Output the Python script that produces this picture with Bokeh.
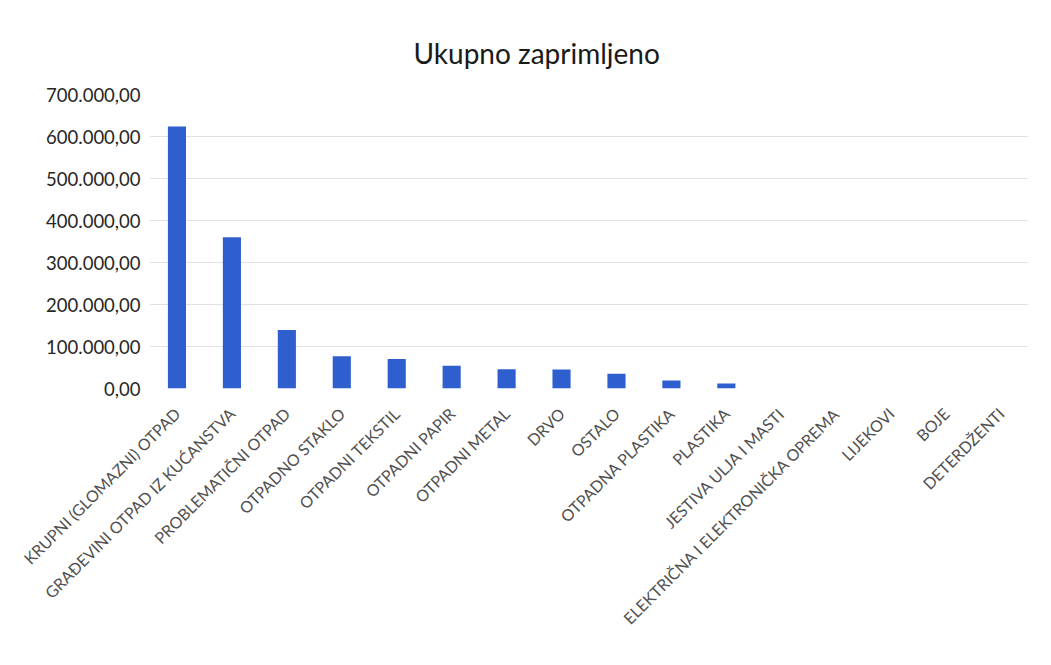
from math import pi
from bokeh.plotting import figure
from bokeh.models import ColumnDataSource, FixedTicker
from bokeh.embed import file_html
from bokeh.resources import INLINE

categories = [
    "KRUPNI (GLOMAZNI) OTPAD",
    "GRAĐEVINI OTPAD IZ KUĆANSTVA",
    "PROBLEMATIČNI OTPAD",
    "OTPADNO STAKLO",
    "OTPADNI TEKSTIL",
    "OTPADNI PAPIR",
    "OTPADNI METAL",
    "DRVO",
    "OSTALO",
    "OTPADNA PLASTIKA",
    "PLASTIKA",
    "JESTIVA ULJA I MASTI",
    "ELEKTRIČNA I ELEKTRONIČKA OPREMA",
    "LIJEKOVI",
    "BOJE",
    "DETERDŽENTI",
]
values = [624000, 360000, 139000, 77000, 70000, 54000, 46000, 45000, 35000, 19000, 12000, 250, 180, 60, 40, 20]

y_ticks = [0, 100000, 200000, 300000, 400000, 500000, 600000, 700000]
y_tick_labels = ["0,00", "100.000,00", "200.000,00", "300.000,00", "400.000,00",
                 "500.000,00", "600.000,00", "700.000,00"]

src = ColumnDataSource(dict(cat=categories, val=values))

p = figure(x_range=categories, y_range=(0, 700000), width=1035, height=649,
           output_backend="svg", toolbar_location=None,
           min_border_left=149, min_border_right=7, min_border_top=94, min_border_bottom=261)

p.vbar(x="cat", top="val", width=0.33, source=src, fill_color="#2F5FCF", line_color=None)

p.title.text = "Ukupno zaprimljeno"
p.title.align = "left"
p.title.offset = 264
p.title.standoff = 50
p.title.text_font = "Lato"
p.title.text_font_size = "28px"
p.title.text_font_style = "normal"
p.title.text_color = "#1a1a1a"

p.yaxis.ticker = FixedTicker(ticks=y_ticks)
p.yaxis.major_label_overrides = {t: l for t, l in zip(y_ticks, y_tick_labels)}
p.yaxis.axis_line_color = None
p.yaxis.major_tick_line_color = None
p.yaxis.major_tick_out = 0
p.yaxis.major_tick_in = 0
p.yaxis.minor_tick_line_color = None
p.yaxis.minor_tick_out = 0
p.yaxis.major_label_text_font = "Lato"
p.yaxis.major_label_text_font_size = "18.5px"
p.yaxis.major_label_text_color = "#262626"
p.yaxis.major_label_standoff = 9

p.xaxis.axis_line_color = None
p.xaxis.major_tick_line_color = None
p.xaxis.major_tick_out = 0
p.xaxis.major_tick_in = 0
p.xaxis.major_label_orientation = pi / 4
p.xaxis.major_label_text_font = "Lato"
p.xaxis.major_label_text_font_size = "16px"
p.xaxis.major_label_text_color = "#505050"
p.xaxis.major_label_standoff = 22

p.xgrid.grid_line_color = None
p.ygrid.grid_line_color = "#e2e2e2"
p.ygrid.grid_line_width = 1
p.outline_line_color = None
p.x_range.range_padding = 0

open("out.html", "w").write(file_html(p, INLINE))
